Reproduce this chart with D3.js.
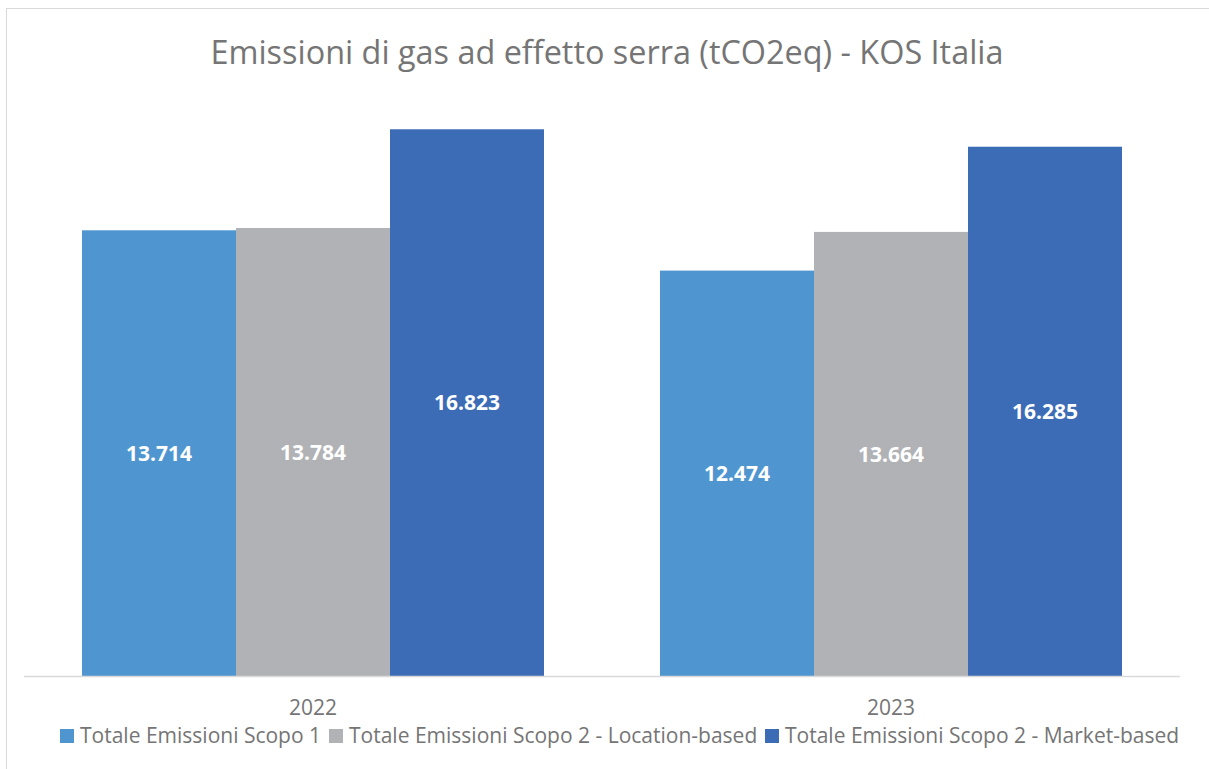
<!DOCTYPE html>
<html>
<head>
<meta charset="utf-8">
<script src="https://cdn.jsdelivr.net/npm/d3@7"></script>
<style>
  body { margin: 0; background: #fff; }
  svg { display: block; }
</style>
</head>
<body>
<div id="chart"></div>
<script>
const years = ["2022", "2023"];
const seriesNames = [
  "Totale Emissioni Scopo 1",
  "Totale Emissioni Scopo 2 - Location-based",
  "Totale Emissioni Scopo 2 - Market-based"
];
const scope1 = [13.714, 12.474];
const scope2Location = [13.784, 13.664];
const scope2Market = [16.823, 16.285];
const seriesColors = ["#4f96d1", "#b1b2b5", "#3c6cb6"];

const W = 1209, H = 769;
const margin = { top: 91, right: 29, bottom: 93, left: 24 };
const textGray = "#757575";
const fontFam = "'Open Sans', sans-serif";

const svg = d3.select("#chart").append("svg")
  .attr("width", W)
  .attr("height", H);

// chart frame
svg.append("rect")
  .attr("x", 6.5).attr("y", 8.5)
  .attr("width", W + 10).attr("height", H + 10)
  .attr("fill", "#fff")
  .attr("stroke", "#d9d9d9");

svg.append("text")
  .attr("x", 607).attr("y", 64)
  .attr("text-anchor", "middle")
  .attr("fill", textGray)
  .attr("font-family", fontFam)
  .attr("font-size", "32.4px")
  .text("Emissioni di gas ad effetto serra (tCO2eq) - KOS Italia");

// group inner width 462 out of 578 per band
const x0 = d3.scaleBand()
  .domain(years)
  .range([margin.left, W - margin.right])
  .paddingInner(116 / 578)
  .paddingOuter(58 / 578);

const x1 = d3.scaleBand()
  .domain(d3.range(seriesNames.length))
  .range([0, x0.bandwidth()]);

const y = d3.scaleLinear()
  .domain([0, 18])
  .range([H - margin.bottom, margin.top]);

const allSeries = [scope1, scope2Location, scope2Market];

const groups = svg.selectAll("g.year")
  .data(years)
  .join("g")
  .attr("class", "year")
  .attr("transform", d => `translate(${x0(d)},0)`);

groups.each(function (yr, yi) {
  const g = d3.select(this);
  allSeries.forEach((vals, si) => {
    const v = vals[yi];
    g.append("rect")
      .attr("x", x1(si))
      .attr("y", y(v))
      .attr("width", x1.bandwidth())
      .attr("height", y(0) - y(v))
      .attr("fill", seriesColors[si]);
    g.append("text")
      .attr("x", x1(si) + x1.bandwidth() / 2)
      .attr("y", (y(v) + y(0)) / 2)
      .attr("dy", "0.36em")
      .attr("text-anchor", "middle")
      .attr("fill", "#fff")
      .attr("font-family", fontFam)
      .attr("font-weight", "bold")
      .attr("font-size", "21px")
      .text(d3.format(".3f")(v));
  });
});

// x axis baseline
svg.append("line")
  .attr("x1", margin.left).attr("x2", W - margin.right)
  .attr("y1", y(0) + 0.5).attr("y2", y(0) + 0.5)
  .attr("stroke", "#d9d9d9")
  .attr("stroke-width", 1.5);

svg.selectAll("text.xlab")
  .data(years)
  .join("text")
  .attr("class", "xlab")
  .attr("x", d => x0(d) + x0.bandwidth() / 2)
  .attr("y", 715)
  .attr("text-anchor", "middle")
  .attr("fill", textGray)
  .attr("font-family", fontFam)
  .attr("font-size", "21px")
  .text(d => d);

// legend
const legendX = [60, 329, 765];
const legend = svg.append("g");
seriesNames.forEach((name, i) => {
  legend.append("rect")
    .attr("x", legendX[i]).attr("y", 729)
    .attr("width", 14).attr("height", 14)
    .attr("fill", seriesColors[i]);
  legend.append("text")
    .attr("x", legendX[i] + 20).attr("y", 743)
    .attr("fill", textGray)
    .attr("font-family", fontFam)
    .attr("font-size", "21px")
    .text(name);
});
</script>
</body>
</html>
